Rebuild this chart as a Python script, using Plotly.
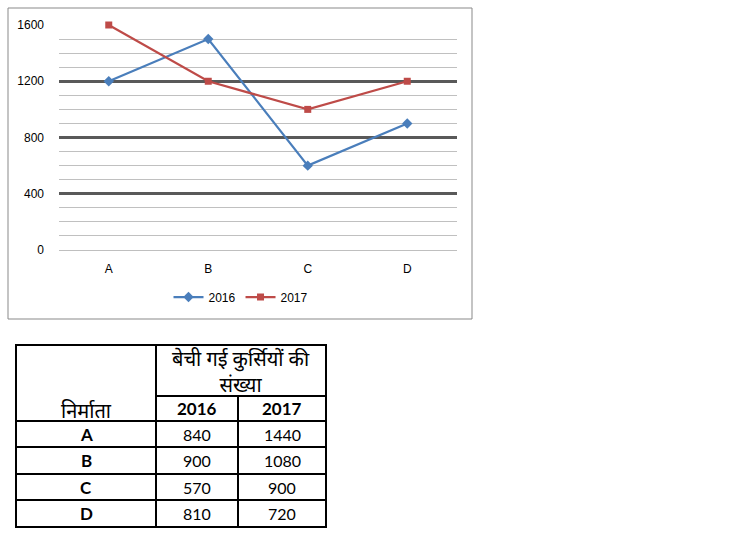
import plotly.graph_objects as go

# ---------------- data ----------------
categories = ["A", "B", "C", "D"]
sales_2016 = [1200, 1500, 600, 900]
sales_2017 = [1600, 1200, 1000, 1200]
series_names = ["2016", "2017"]
y_ticks = [0, 400, 800, 1200, 1600]

table_makers = ["A", "B", "C", "D"]
table_2016 = [840, 900, 570, 810]
table_2017 = [1440, 1080, 900, 720]
table_years = ["2016", "2017"]
table_group_header = "बेची गई कुर्सियों की<br>संख्या"
table_first_header = "निर्माता"

# ---------------- layout helpers ----------------
W, H = 735, 538


def px(x):
    return x / W


def py(y):
    return 1 - y / H


FONT = "Lato, 'Noto Sans', sans-serif"

fig = go.Figure()
fig.add_trace(go.Scatter(
    x=categories, y=sales_2016, name=series_names[0], mode="lines+markers",
    line=dict(color="#4a7ebb", width=2.25),
    marker=dict(symbol="diamond", size=8, color="#4a7ebb"),
    cliponaxis=False,
))
fig.add_trace(go.Scatter(
    x=categories, y=sales_2017, name=series_names[1], mode="lines+markers",
    line=dict(color="#be4b48", width=2.25),
    marker=dict(symbol="square", size=7, color="#be4b48"),
    cliponaxis=False,
))

shapes = []
# chart border
shapes.append(dict(type="rect", xref="paper", yref="paper",
                   x0=px(8), x1=px(472), y0=py(319), y1=py(8),
                   line=dict(color="#898989", width=1), layer="below"))

# ---------------- table (lines) ----------------
col_x = [16, 156, 238, 326]
row_y = [345, 396, 421, 447, 474, 500, 527]
LW = 2
def hline(x0, x1, y):
    shapes.append(dict(type="line", xref="paper", yref="paper",
                       x0=px(x0), x1=px(x1), y0=py(y), y1=py(y),
                       line=dict(color="black", width=LW)))
def vline(x, y0, y1):
    shapes.append(dict(type="line", xref="paper", yref="paper",
                       x0=px(x), x1=px(x), y0=py(y0), y1=py(y1),
                       line=dict(color="black", width=LW)))

hline(col_x[0] - 1, col_x[3] + 1, row_y[0])
hline(col_x[1], col_x[3] + 1, row_y[1])
for y in row_y[2:]:
    hline(col_x[0] - 1, col_x[3] + 1, y)
vline(col_x[0], row_y[0], row_y[-1])
vline(col_x[1], row_y[0], row_y[-1])
vline(col_x[2], row_y[1], row_y[-1])
vline(col_x[3], row_y[0], row_y[-1])

# ---------------- table (text) ----------------
ann = []
def text(x, y, s, size=17, bold=False):
    ann.append(dict(xref="paper", yref="paper", x=px(x), y=py(y), text=("<b>%s</b>" % s) if bold else s,
                    showarrow=False, xanchor="center", yanchor="middle",
                    font=dict(family=FONT, size=size, color="black")))

text((col_x[1] + col_x[3]) / 2, (row_y[0] + row_y[1]) / 2, table_group_header, size=20)
text((col_x[0] + col_x[1]) / 2, (row_y[1] + row_y[2]) / 2 + 1, table_first_header, size=20)
text((col_x[1] + col_x[2]) / 2, (row_y[1] + row_y[2]) / 2, table_years[0], size=17, bold=True)
text((col_x[2] + col_x[3]) / 2, (row_y[1] + row_y[2]) / 2, table_years[1], size=17, bold=True)
for i, m in enumerate(table_makers):
    yc = (row_y[2 + i] + row_y[3 + i]) / 2
    text((col_x[0] + col_x[1]) / 2, yc, m, size=17, bold=True)
    text((col_x[1] + col_x[2]) / 2, yc, str(table_2016[i]), size=16)
    text((col_x[2] + col_x[3]) / 2, yc, str(table_2017[i]), size=16)

fig.update_layout(
    template="none",
    width=W, height=H,
    margin=dict(l=0, r=0, t=0, b=0, pad=0),
    paper_bgcolor="white", plot_bgcolor="white",
    font=dict(family="'Liberation Sans', Arial, sans-serif", size=12, color="#000000"),
    showlegend=True,
    legend=dict(orientation="h", x=px(241), y=py(297), xanchor="center", yanchor="middle",
                font=dict(size=12), itemwidth=30, bgcolor="rgba(0,0,0,0)"),
    shapes=shapes,
    annotations=ann,
    xaxis=dict(domain=[px(59), px(457)], range=[-0.5, 3.5], showgrid=False, automargin=False,
               zeroline=False, showline=False, ticks="", ticklabelstandoff=10,
               tickfont=dict(size=12)),
    yaxis=dict(domain=[py(250), py(25)], range=[0, 1600], tickmode="array", tickvals=y_ticks,
               automargin=False,
               showgrid=True, gridcolor="#595959", gridwidth=2.5,
               zeroline=True, zerolinecolor="#bfbfbf", zerolinewidth=1.2,
               showline=False, ticks="", ticklabelstandoff=14,
               minor=dict(dtick=100, showgrid=True, gridcolor="#c0c0c0", gridwidth=1),
               tickfont=dict(size=12)),
)

fig.write_html("out.html", config={"displayModeBar": False},
               post_script="document.body.style.margin='0';document.body.style.overflow='hidden';")
